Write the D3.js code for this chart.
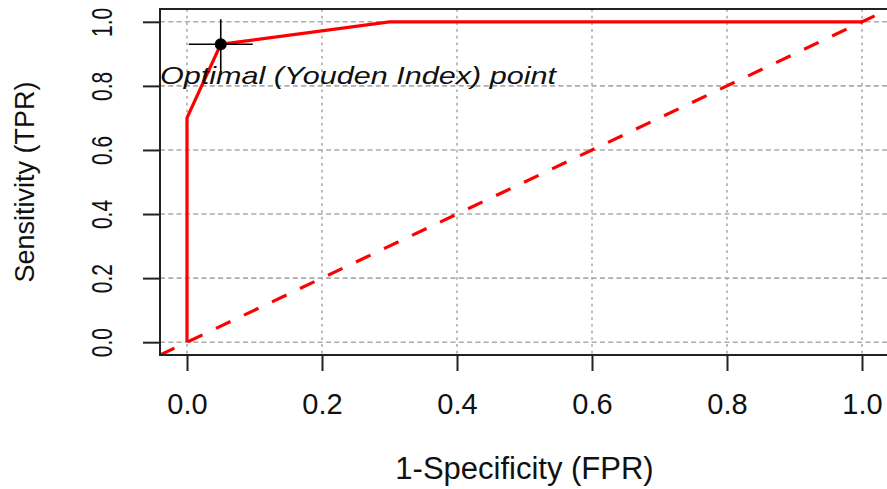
<!DOCTYPE html>
<html>
<head>
<meta charset="utf-8">
<script src="https://cdn.jsdelivr.net/npm/d3@7"></script>
<style>
    body { margin: 0; background: #fff; }
    svg { display: block; font-family: "Liberation Sans", Arial, sans-serif; }
</style>
</head>
<body>
<svg id="roc" width="887" height="489"></svg>
<script>
// ROC curve points (FPR, TPR)
const fpr = [0, 0, 0.05, 0.30, 1.0];
const tpr = [0, 0.70, 0.93, 1.0, 1.0];
// Youden optimal point
const optFpr = 0.05;
const optTpr = 0.93;
const optLabel = 'Optimal (Youden Index) point';
const tickValues = [0, 0.2, 0.4, 0.6, 0.8, 1.0];

const svg = d3.select('#roc');

// Plot region (R-style 4% padding around [0,1])
const x = d3.scaleLinear().domain([-0.04, 1.04]).range([160, 889]);
const y = d3.scaleLinear().domain([-0.04, 1.04]).range([355, 9]);

svg.append('defs').append('clipPath').attr('id', 'clip')
    .append('rect')
    .attr('x', x(-0.04)).attr('y', y(1.04))
    .attr('width', x(1.04) - x(-0.04))
    .attr('height', y(-0.04) - y(1.04));

// Grid
const grid = svg.append('g');
grid.selectAll('.vgrid')
    .data(tickValues)
    .enter().append('line')
    .attr('x1', d => x(d)).attr('x2', d => x(d))
    .attr('y1', y(1.04)).attr('y2', y(-0.04))
    .attr('stroke', '#acacac')
    .attr('stroke-width', 1.6)
    .attr('stroke-dasharray', '2.7,4');
grid.selectAll('.hgrid')
    .data(tickValues)
    .enter().append('line')
    .attr('x1', x(-0.04)).attr('x2', x(1.04))
    .attr('y1', d => y(d)).attr('y2', d => y(d))
    .attr('stroke', '#acacac')
    .attr('stroke-width', 1.6)
    .attr('stroke-dasharray', '5,3.3');

const plot = svg.append('g').attr('clip-path', 'url(#clip)');

// Chance diagonal
plot.append('line')
    .attr('x1', x(-0.04)).attr('y1', y(-0.04))
    .attr('x2', x(1.04)).attr('y2', y(1.04))
    .attr('stroke', '#ff0000')
    .attr('stroke-width', 3.2)
    .attr('stroke-dasharray', '16,15');

// ROC curve
const pts = fpr.map((f, i) => [f, tpr[i]]);
plot.append('path')
    .datum(pts)
    .attr('fill', 'none')
    .attr('stroke', '#ff0000')
    .attr('stroke-width', 3.2)
    .attr('d', d3.line().x(d => x(d[0])).y(d => y(d[1])));

// Optimal point with cross
const ox = x(optFpr), oy = y(optTpr);
plot.append('line')
    .attr('x1', ox - 32).attr('x2', ox + 32)
    .attr('y1', oy).attr('y2', oy)
    .attr('stroke', '#000').attr('stroke-width', 1.6);
plot.append('line')
    .attr('x1', ox).attr('x2', ox)
    .attr('y1', oy - 25).attr('y2', oy + 27)
    .attr('stroke', '#000').attr('stroke-width', 1.6);
plot.append('circle')
    .attr('cx', ox).attr('cy', oy).attr('r', 6)
    .attr('fill', '#000');

svg.append('text')
    .attr('transform', `translate(${x(-0.04)},${oy + 40}) scale(1.33,1)`)
    .attr('font-size', 23)
    .attr('font-style', 'italic')
    .attr('fill', '#111')
    .text(optLabel);

// Box (right edge falls outside the window)
svg.append('rect')
    .attr('x', x(-0.04)).attr('y', y(1.04))
    .attr('width', x(1.04) - x(-0.04))
    .attr('height', y(-0.04) - y(1.04))
    .attr('fill', 'none')
    .attr('stroke', '#222')
    .attr('stroke-width', 2);

// Axes
const fmt = d3.format('.1f');
const xAxis = svg.append('g')
    .attr('transform', `translate(0,${y(-0.04)})`)
    .call(d3.axisBottom(x).tickValues(tickValues).tickFormat(fmt).tickSize(16).tickPadding(22));
xAxis.select('.domain').remove();
xAxis.selectAll('line').attr('stroke', '#222').attr('stroke-width', 2);
xAxis.selectAll('text')
    .attr('font-size', 29)
    .attr('font-family', '"Liberation Sans", Arial, sans-serif')
    .attr('fill', '#111');

const yAxis = svg.append('g')
    .attr('transform', `translate(${x(-0.04)},0)`)
    .call(d3.axisLeft(y).tickValues(tickValues).tickFormat(fmt).tickSize(17));
yAxis.select('.domain').remove();
yAxis.selectAll('line').attr('stroke', '#222').attr('stroke-width', 2);
yAxis.selectAll('text')
    .attr('x', null).attr('dy', null)
    .attr('text-anchor', 'middle')
    .attr('font-size', 30)
    .attr('font-family', '"Liberation Sans", Arial, sans-serif')
    .attr('fill', '#111')
    .attr('transform', `translate(${101 - x(-0.04)},0) rotate(-90) scale(0.7,1) translate(0,${0.35 * 30})`);

// Axis titles
svg.append('text')
    .attr('x', (x(-0.04) + 889) / 2)
    .attr('y', 479)
    .attr('text-anchor', 'middle')
    .attr('font-size', 31)
    .attr('fill', '#111')
    .text('1-Specificity (FPR)');

svg.append('text')
    .attr('transform', `translate(25,${(y(-0.04) + y(1.04)) / 2}) rotate(-90)`)
    .attr('dy', '0.35em')
    .attr('text-anchor', 'middle')
    .attr('font-size', 27)
    .attr('fill', '#111')
    .text('Sensitivity (TPR)');
</script>
</body>
</html>
